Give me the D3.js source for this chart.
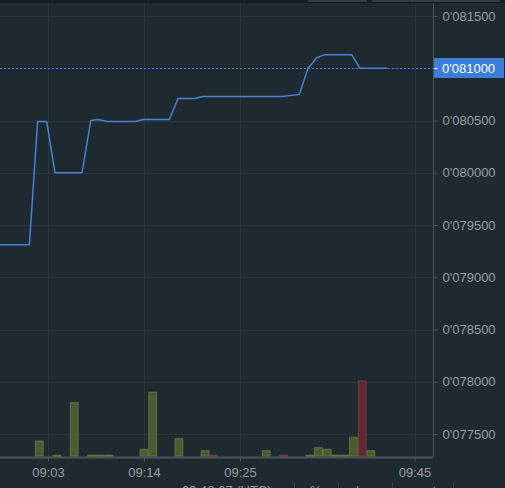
<!DOCTYPE html>
<html>
<head>
<meta charset="utf-8">
<script src="https://cdn.jsdelivr.net/npm/d3@7"></script>
<style>
  html, body { margin: 0; padding: 0; background: #1f2930; overflow: hidden; }
  svg { display: block; }
  text { font-family: "Liberation Sans", Arial, sans-serif; }
</style>
</head>
<body>
<svg id="chart" width="505" height="488"></svg>
<script>
// ---- Data ----
const priceTimes = ["08:57:00","09:00:52","09:01:49","09:02:51","09:03:48","09:06:54","09:07:54","09:08:42","09:09:48","09:13:00","09:13:54","09:16:54","09:17:54","09:19:48","09:20:42","09:29:48","09:31:48","09:32:48","09:33:48","09:34:42","09:37:48","09:38:45","09:41:54"];
const priceValues = [0.07931,0.07931,0.08049,0.08049,0.08000,0.08000,0.08050,0.08051,0.08049,0.08049,0.08051,0.08051,0.08071,0.08071,0.08073,0.08073,0.08075,0.08100,0.08110,0.08113,0.08113,0.08100,0.08100];

const volTimes = ["09:02","09:04","09:06","09:08","09:09","09:10","09:14","09:15","09:18","09:21","09:22","09:28","09:30","09:33","09:34","09:35","09:36","09:37","09:38","09:39","09:40"];
const volValues = [20,1,71,1,1,1,9,85,23,7,1,7,1,1,11,9,1,1,25,100,7];
const volDir    = ["up","up","up","up","up","up","up","up","up","up","down","up","down","up","up","up","up","up","up","down","up"];

const yTickValues = [0.0815,0.0810,0.0805,0.0800,0.0795,0.0790,0.0785,0.0780,0.0775];
const xTickLabels = ["09:03","09:14","09:25","09:45"];
const lastPrice = 0.0810;
const footerItems = ["09:48:07 (UTC)","%","log","auto"];

// ---- Layout ----
const W = 505, H = 488;
const plotL = 0, plotR = 433, plotT = 3, plotB = 457;
const parseT = d3.timeParse("%H:%M:%S");
const parseM = d3.timeParse("%H:%M");

const x = d3.scaleTime()
  .domain([parseT("08:57:30"), parseT("09:47:07")])
  .range([plotL, plotR]);
const y = d3.scaleLinear()
  .domain([0.0775, 0.0815])
  .range([434, 16]);
const yVol = d3.scaleLinear().domain([0, 100]).range([456, 381]);

const fmt = v => {
  const s = Math.round(v * 1e6).toString().padStart(6, "0");
  return "0'" + s;
};

const svg = d3.select("#chart");
svg.append("rect").attr("width", W).attr("height", H).attr("fill", "#1f2930");

// top strip
svg.append("rect").attr("x", 0).attr("y", 0).attr("width", W).attr("height", 3).attr("fill", "#161d22");
svg.append("rect").attr("x", 308).attr("y", 0).attr("width", 59).attr("height", 2).attr("fill", "#343d45");
svg.append("rect").attr("x", 372).attr("y", 0).attr("width", 128).attr("height", 2).attr("fill", "#343d45");

svg.append("defs").append("clipPath").attr("id", "clip")
  .append("rect").attr("x", plotL).attr("y", plotT).attr("width", plotR - plotL).attr("height", plotB - plotT);

// grid
const grid = svg.append("g");
grid.selectAll(".hg").data(yTickValues).join("line")
  .attr("x1", plotL).attr("x2", plotR)
  .attr("y1", d => Math.round(y(d)) + 0.5).attr("y2", d => Math.round(y(d)) + 0.5)
  .attr("stroke", "#2a353d").attr("stroke-width", 1);
grid.selectAll(".vg").data(xTickLabels).join("line")
  .attr("x1", d => Math.round(x(parseM(d))) + 0.5).attr("x2", d => Math.round(x(parseM(d))) + 0.5)
  .attr("y1", plotT).attr("y2", plotB)
  .attr("stroke", "#2a353d").attr("stroke-width", 1);

const plot = svg.append("g").attr("clip-path", "url(#clip)");

// volume bars
const barW = x(parseM("09:01")) - x(parseM("09:00"));
plot.selectAll(".bar").data(volTimes.map((t, i) => ({t: parseM(t), v: volValues[i], d: volDir[i]})))
  .join("rect")
  .attr("x", d => x(d.t) - barW / 2 + 0.5)
  .attr("width", barW - 1)
  .attr("y", d => yVol(d.v))
  .attr("height", d => Math.max(1, yVol(0) - yVol(d.v)))
  .attr("fill", d => d.d === "up" ? "#4a5a33" : "#5b2b32")
  .attr("stroke", d => d.d === "up" ? "#61773a" : "#7e3840")
  .attr("stroke-width", 1);

// last price dotted line
plot.append("line")
  .attr("x1", plotL).attr("x2", plotR)
  .attr("y1", Math.round(y(lastPrice)) + 0.5).attr("y2", Math.round(y(lastPrice)) + 0.5)
  .attr("stroke", "#3b7dd8").attr("stroke-width", 1).attr("stroke-dasharray", "2,2");

// price line
const pts = priceTimes.map((t, i) => ({t: parseT(t), v: priceValues[i]}));
plot.append("path").datum(pts)
  .attr("fill", "none")
  .attr("stroke", "#4b82d6")
  .attr("stroke-width", 1.5)
  .attr("stroke-linejoin", "round")
  .attr("d", d3.line().x(d => x(d.t)).y(d => y(d.v)));

// axes
const yAxis = d3.axisRight(y).tickValues(yTickValues).tickFormat(fmt).tickSize(4).tickPadding(5);
const gy = svg.append("g").attr("transform", `translate(${plotR + 0.5},0)`).call(yAxis);
gy.select(".domain").attr("d", `M0,${plotT}V${plotB}`).attr("stroke", "#4c555d");
gy.selectAll(".tick line").attr("stroke", "#4c555d");
gy.selectAll(".tick text").attr("fill", "#9a9ea3").style("font-size", "13px")
  .style("font-family", "'Liberation Sans', Arial, sans-serif");

const xAxis = d3.axisBottom(x).tickValues(xTickLabels.map(parseM)).tickFormat(d3.timeFormat("%H:%M")).tickSize(4).tickPadding(6);
const gx = svg.append("g").attr("transform", `translate(0,${plotB + 0.5})`).call(xAxis);
gx.select(".domain").attr("d", `M${plotL},0H${plotR}`).attr("stroke", "#4c555d").attr("stroke-width", 2);
gx.selectAll(".tick line").attr("stroke", "#4c555d");
gx.selectAll(".tick text").attr("fill", "#9a9ea3").style("font-size", "13px")
  .style("font-family", "'Liberation Sans', Arial, sans-serif");

// price tag
const tagY = Math.round(y(lastPrice));
svg.append("rect").attr("x", plotR + 1).attr("y", tagY - 10).attr("width", W - plotR - 2).attr("height", 20).attr("fill", "#3b7dd8");
svg.append("line").attr("x1", plotR + 1).attr("x2", plotR + 5).attr("y1", tagY + 0.5).attr("y2", tagY + 0.5).attr("stroke", "#ffffff");
svg.append("text").attr("x", plotR + 9).attr("y", tagY).attr("dy", "0.35em")
  .attr("fill", "#ffffff").style("font-size", "13px").text(fmt(lastPrice));

// footer (cut off at bottom, as in the reference)
const footerX = [182, 310, 356, 418];
const footer = svg.append("g");
footer.selectAll("text").data(footerItems).join("text")
  .attr("x", (d, i) => footerX[i]).attr("y", 495)
  .attr("fill", "#9a9ea3").style("font-size", "13px").text(d => d);
footer.selectAll("line").data([294, 338, 392, 453]).join("line")
  .attr("x1", d => d + 0.5).attr("x2", d => d + 0.5).attr("y1", 483).attr("y2", 488)
  .attr("stroke", "#3a444c");
</script>
</body>
</html>
